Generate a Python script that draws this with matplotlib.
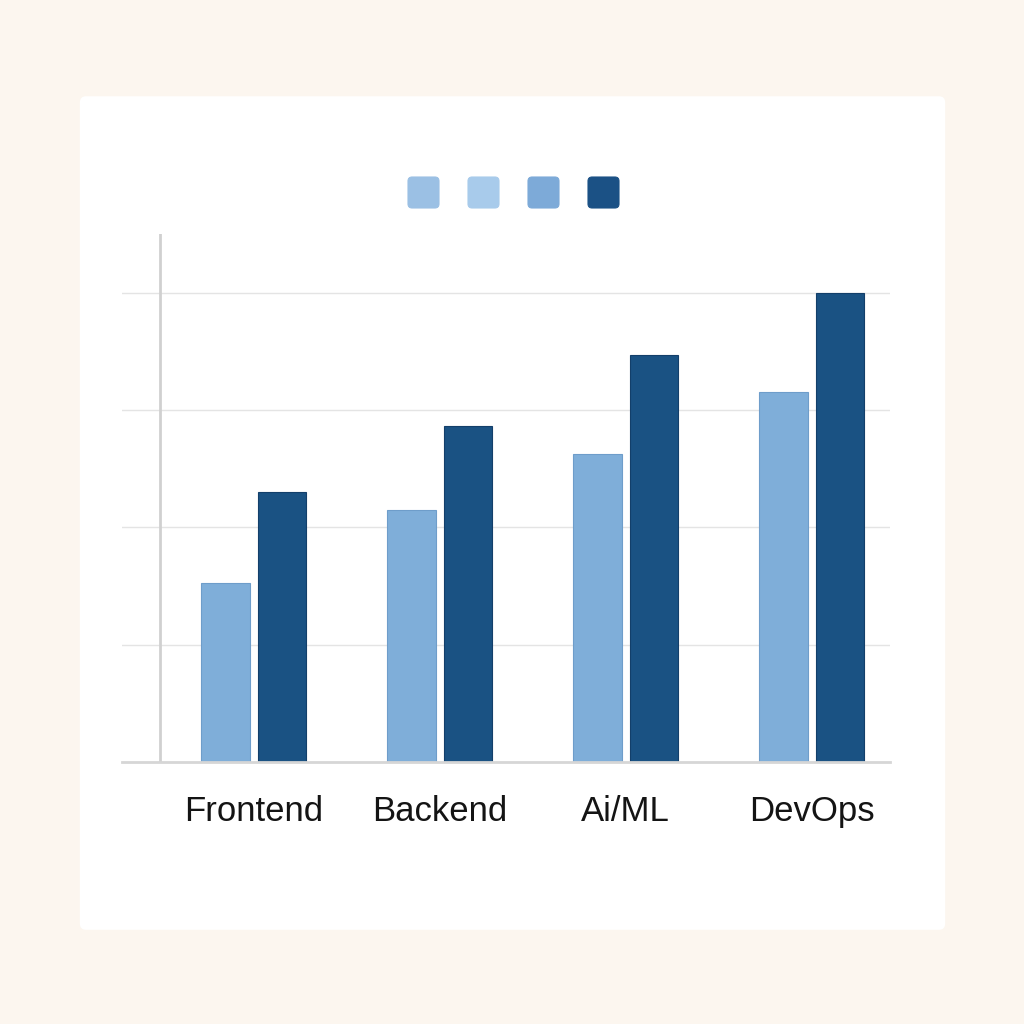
import matplotlib
matplotlib.use("Agg")
import matplotlib.pyplot as plt
import numpy as np
from matplotlib.patches import FancyBboxPatch

# Data (grid step = 20)
categories = ["Frontend", "Backend", "Ai/ML", "DevOps"]
series_light = [30.5, 43, 52.5, 63]
series_dark = [46, 57.3, 69.3, 80]
legend_colors = ["#9BC0E4", "#A8CBEB", "#7DAAD8", "#1B5185"]

light = "#7FAED9"
dark = "#1A5283"

fig = plt.figure(figsize=(10.24, 10.24), dpi=100)
fig.patch.set_facecolor("#FCF6EF")

# white card behind the chart
card = FancyBboxPatch((0.078, 0.092), 0.845, 0.814, boxstyle="round,pad=0,rounding_size=0.006",
                      transform=fig.transFigure, facecolor="white", edgecolor="none", zorder=-5)
fig.patches.append(card)

# legend squares (no labels)
for i, c in enumerate(legend_colors):
    x0 = (408 + i * 60) / 1024
    sq = FancyBboxPatch((x0, 1 - 208 / 1024), 31 / 1024, 31 / 1024,
                        boxstyle="round,pad=0,rounding_size=0.004", transform=fig.transFigure,
                        facecolor=c, edgecolor=c, linewidth=0.8, zorder=1)
    fig.patches.append(sq)

ax = fig.add_axes([0.119, 0.2559, 0.75, 0.5156])
ax.set_facecolor("none")

x = np.arange(len(categories))
w = 0.26
ax.bar(x - 0.152, series_light, w, color=light, edgecolor="#6E9DCA", linewidth=0.8, zorder=2)
ax.bar(x + 0.152, series_dark, w, color=dark, edgecolor="#133F6A", linewidth=0.8, zorder=2)

ax.set_xlim(-0.71, 3.42)
ax.set_ylim(0, 90)
ax.set_yticks([20, 40, 60, 80])
ax.yaxis.grid(True, color="#E4E4E4", linewidth=1)
ax.set_axisbelow(True)
ax.tick_params(axis="y", length=0, labelleft=False)
ax.tick_params(axis="x", length=0, pad=24)
ax.set_xticks(x)
ax.set_xticklabels(categories, fontsize=25, color="#141414", family="Liberation Sans")
for s in ["top", "right", "left"]:
    ax.spines[s].set_visible(False)
ax.spines["bottom"].set_color("#D6D6D6")
ax.spines["bottom"].set_linewidth(2)
ax.spines["bottom"].set_zorder(3)
ax.axvline(-0.505, color="#D0D0D0", linewidth=2, zorder=1)

plt.savefig("out.png", dpi=100, facecolor=fig.get_facecolor())
